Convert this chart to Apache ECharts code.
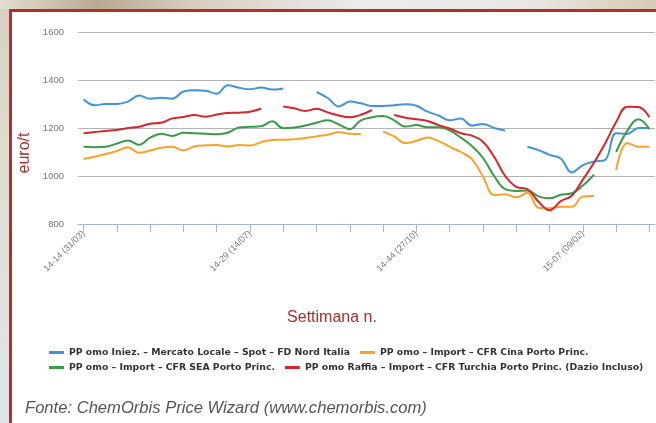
<!DOCTYPE html>
<html>
<head>
<meta charset="utf-8">
<script src="https://cdn.jsdelivr.net/npm/echarts@6/dist/echarts.min.js"></script>
<style>
  html, body { margin: 0; padding: 0; }
  body {
    width: 656px; height: 423px; overflow: hidden; position: relative;
    background: linear-gradient(180deg, #d9d0c2 0%, #e2ddd3 45%, #dfe4ea 100%);
  }
  #topstrip {
    position: absolute; left: 0; top: 0; width: 656px; height: 9px;
    background: linear-gradient(90deg, #e4ded2 0%, #b9a98f 15%, #d8cfc0 30%, #ebebe9 55%, #e9e8e5 80%, #d7c9b2 100%);
  }
  #frame {
    position: absolute; left: 9px; top: 9px; width: 700px; height: 450px;
    background: #fff; border-left: 3px solid #b0302c; border-top: 3px solid #b0302c;
  }
  #hello { position: absolute; left: 0; top: 0; width: 656px; height: 423px; }
</style>
</head>
<body>
<div id="topstrip"></div>
<div id="frame"></div>
<div id="hello"></div>
<script>
// weeks (year-week (monday))
var weeks = [
  '14-14 (31/03)', '14-15 (07/04)', '14-16 (14/04)', '14-17 (21/04)', '14-18 (28/04)',
  '14-19 (05/05)', '14-20 (12/05)', '14-21 (19/05)', '14-22 (26/05)', '14-23 (02/06)',
  '14-24 (09/06)', '14-25 (16/06)', '14-26 (23/06)', '14-27 (30/06)', '14-28 (07/07)',
  '14-29 (14/07)', '14-30 (21/07)', '14-31 (28/07)', '14-32 (04/08)', '14-33 (11/08)',
  '14-34 (18/08)', '14-35 (25/08)', '14-36 (01/09)', '14-37 (08/09)', '14-38 (15/09)',
  '14-39 (22/09)', '14-40 (29/09)', '14-41 (06/10)', '14-42 (13/10)', '14-43 (20/10)',
  '14-44 (27/10)', '14-45 (03/11)', '14-46 (10/11)', '14-47 (17/11)', '14-48 (24/11)',
  '14-49 (01/12)', '14-50 (08/12)', '14-51 (15/12)', '14-52 (22/12)', '15-01 (29/12)',
  '15-02 (05/01)', '15-03 (12/01)', '15-04 (19/01)', '15-05 (26/01)', '15-06 (02/02)',
  '15-07 (09/02)', '15-08 (16/02)', '15-09 (23/02)', '15-10 (02/03)', '15-11 (09/03)',
  '15-12 (16/03)', '15-13 (23/03)'
];

var names = [
  'PP omo Iniez. – Mercato Locale – Spot – FD Nord Italia',
  'PP omo – Import – CFR Cina Porto Princ.',
  'PP omo – Import – CFR SEA Porto Princ.',
  'PP omo Raffia – Import – CFR Turchia Porto Princ. (Dazio Incluso)'
];

// euro/t, null = no quote that week
var iniezNord = [
  1320, 1295, 1300, 1300, 1310, 1335, 1322, 1326, 1322, 1352,
  1357, 1355, 1343, 1378, 1368, 1361, 1369, 1360, 1365, null,
  null, 1350, 1325, 1290, 1310, 1303, 1292, 1292, 1295, 1299,
  1293, 1268, 1252, 1232, 1240, 1210, 1217, 1200, 1189, null,
  1122, 1108, 1088, 1073, 1015, 1045, 1060, 1067, 1178, 1175,
  1200, 1200
];
var cina = [
  1071, 1080, 1092, 1104, 1120, 1097, 1106, 1118, 1122, 1107,
  1124, 1128, 1129, 1123, 1129, 1127, 1141, 1150, 1151, 1153,
  1158, 1165, 1172, 1182, 1176, 1175, null, 1185, 1165, 1137,
  1147, 1160, 1145, 1122, 1100, 1070, 998, 921, 924, 911,
  930, 868, 866, 872, 872, 914, 917, null, 1025, 1138,
  1122, 1122
];
var sea = [
  1122, 1120, 1122, 1135, 1148, 1130, 1160, 1176, 1167, 1180,
  1178, 1176, 1174, 1180, 1202, 1205, 1207, 1228, 1199, 1202,
  1210, 1222, 1232, 1215, 1195, 1232, 1245, 1250, 1232, 1206,
  1212, 1203, 1203, 1190, 1160, 1125, 1075, 1000, 945, 938,
  940, 915, 907, 922, 928, 960, 1005, null, 1100, 1188,
  1236, 1195
];
var raffiaTurchia = [
  1178, 1183, 1188, 1192, 1200, 1205, 1218, 1222, 1240, 1246,
  1254, 1247, 1256, 1263, 1264, 1268, 1280, null, 1290, 1282,
  1271, 1280, 1265, 1252, 1245, 1255, 1275, null, 1254, 1243,
  1236, 1229, 1212, 1198, 1178, 1168, 1143, 1080, 1000, 955,
  945, 893, 857, 895, 918, 985, 1055, 1135, 1225, 1289,
  1288, 1245
];

var colors = ['#3e96d6', '#faa228', '#3a9b46', '#d5262e'];

var chartDom = document.getElementById('hello');
var myChart = echarts.init(chartDom);

function lineSeries(name, data, color) {
  return {
    name: name,
    type: 'line',
    data: data,
    smooth: 0.4,
    showSymbol: false,
    connectNulls: false,
    lineStyle: { width: 2, color: color },
    itemStyle: { color: color }
  };
}

var legendText = { fontFamily: 'DejaVu Sans', fontWeight: 'bold', fontSize: 9.3, color: '#333' };

var option = {
  backgroundColor: 'transparent',
  animation: false,
  color: colors,
  grid: { left: 78, right: 1, top: 32, bottom: 199, outerBoundsMode: 'none' },
  legend: [
    {
      data: [names[0], names[1]], left: 49, top: 348, itemGap: 10,
      icon: 'rect', itemWidth: 15, itemHeight: 3, textStyle: legendText, padding: 0
    },
    {
      data: [names[2], names[3]], left: 49, top: 363, itemGap: 10,
      icon: 'rect', itemWidth: 15, itemHeight: 3, textStyle: legendText, padding: 0
    }
  ],
  xAxis: {
    type: 'category',
    data: weeks,
    boundaryGap: true,
    axisLine: { lineStyle: { color: '#9fb8d0', width: 1 } },
    axisTick: {
      show: true, alignWithLabel: true, interval: 2, length: 8, inside: false,
      lineStyle: { color: '#9fb8d0', width: 1 }
    },
    axisLabel: {
      interval: 14, rotate: 45, margin: 8,
      fontFamily: 'Liberation Sans', fontSize: 9, color: '#777'
    },
    splitLine: { show: false }
  },
  yAxis: {
    type: 'value',
    min: 800,
    max: 1600,
    interval: 200,
    axisLine: { show: false },
    axisTick: { show: false },
    axisLabel: {
      margin: 14, fontFamily: 'Liberation Sans', fontSize: 9.5, color: '#777',
      formatter: function (v) { return String(v); }
    },
    splitLine: { lineStyle: { color: '#b4b4b4', width: 1 } }
  },
  graphic: [
    {
      type: 'text', x: 25, y: 153, rotation: Math.PI / 2,
      style: {
        text: 'euro/t', fill: '#a8302c', font: '16px "Liberation Sans"',
        align: 'center', verticalAlign: 'middle'
      }
    },
    {
      type: 'text', x: 332, y: 318,
      style: {
        text: 'Settimana n.', fill: '#a8302c', font: '16px "Liberation Sans"',
        align: 'center', verticalAlign: 'middle'
      }
    },
    {
      type: 'text', x: 25, y: 408,
      style: {
        text: 'Fonte: ChemOrbis Price Wizard (www.chemorbis.com)', fill: '#555',
        font: 'italic 16.6px "Liberation Sans"', align: 'left', verticalAlign: 'middle'
      }
    }
  ],
  series: [
    lineSeries(names[0], iniezNord, colors[0]),
    lineSeries(names[1], cina, colors[1]),
    lineSeries(names[2], sea, colors[2]),
    lineSeries(names[3], raffiaTurchia, colors[3])
  ]
};

option && myChart.setOption(option);
</script>
</body>
</html>
